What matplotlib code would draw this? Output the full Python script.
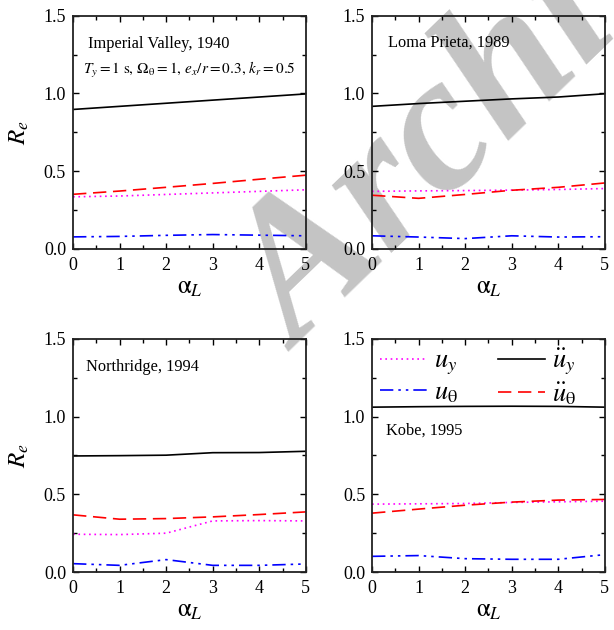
import matplotlib
matplotlib.use("Agg")
import matplotlib.pyplot as plt
from matplotlib.ticker import MultipleLocator

plt.rcParams['font.family'] = ['Liberation Serif', 'DejaVu Serif']
plt.rcParams['mathtext.fontset'] = 'stix'

alpha_L = [0, 1, 2, 3, 4, 5]

# Imperial Valley, 1940
iv_uy = [0.335, 0.34, 0.35, 0.36, 0.37, 0.38]
iv_ut = [0.077, 0.080, 0.087, 0.092, 0.088, 0.084]
iv_ay = [0.897, 0.917, 0.937, 0.957, 0.977, 0.997]
iv_at = [0.351, 0.372, 0.396, 0.421, 0.448, 0.474]

# Loma Prieta, 1989
lp_uy = [0.370, 0.373, 0.375, 0.378, 0.382, 0.388]
lp_ut = [0.084, 0.076, 0.066, 0.084, 0.076, 0.078]
lp_ay = [0.917, 0.935, 0.950, 0.965, 0.977, 0.998]
lp_at = [0.345, 0.325, 0.350, 0.377, 0.396, 0.424]

# Northridge, 1994
nr_uy = [0.243, 0.241, 0.250, 0.329, 0.331, 0.329]
nr_ut = [0.054, 0.043, 0.080, 0.043, 0.043, 0.052]
nr_ay = [0.747, 0.749, 0.752, 0.768, 0.769, 0.777]
nr_at = [0.368, 0.340, 0.344, 0.355, 0.370, 0.387]

# Kobe, 1995
kb_uy = [0.437, 0.439, 0.441, 0.448, 0.452, 0.456]
kb_ut = [0.101, 0.106, 0.086, 0.082, 0.082, 0.112]
kb_ay = [1.061, 1.064, 1.066, 1.067, 1.066, 1.061]
kb_at = [0.379, 0.405, 0.430, 0.450, 0.463, 0.467]

panels = [
    ("Imperial Valley, 1940", iv_uy, iv_ut, iv_ay, iv_at),
    ("Loma Prieta, 1989", lp_uy, lp_ut, lp_ay, lp_at),
    ("Northridge, 1994", nr_uy, nr_ut, nr_ay, nr_at),
    ("Kobe, 1995", kb_uy, kb_ut, kb_ay, kb_at),
]

positions = [
    [0.119, 0.605, 0.379, 0.370],
    [0.606, 0.605, 0.379, 0.370],
    [0.119, 0.092, 0.379, 0.370],
    [0.606, 0.092, 0.379, 0.370],
]
label_pos = [(0.064, 0.88), (0.069, 0.884), (0.056, 0.88), (0.06, 0.605)]

fig = plt.figure(figsize=(6.14, 6.30), dpi=100)

# background watermark
fig.text(0.487, 0.44, "Archive", fontsize=140, fontweight='bold', style='italic',
         color='#c4c4c4', rotation=44, rotation_mode='anchor',
         ha='left', va='baseline', zorder=-1)

for i, (name, uy, ut, ay, at) in enumerate(panels):
    ax = fig.add_axes(positions[i])
    ax.patch.set_alpha(0)
    ax.plot(alpha_L, uy, color='#ff00ff', lw=1.2, ls=(0, (1, 2.2)), label=r'$u_y$')
    ax.plot(alpha_L, ut, color='#0000ff', lw=1.2, ls=(0, (8, 3, 1.5, 3, 1.5, 3)),
            label=r'$u_\mathrm{\theta}$')
    ax.plot(alpha_L, ay, color='black', lw=1.2, label=r'$\ddot{u}_y$')
    ax.plot(alpha_L, at, color='#ff0000', lw=1.2, ls=(0, (8, 4)),
            label=r'$\ddot{u}_\mathrm{\theta}$')
    ax.set_xlim(0, 5)
    ax.set_ylim(0, 1.5)
    ax.xaxis.set_major_locator(MultipleLocator(1))
    ax.xaxis.set_minor_locator(MultipleLocator(0.5))
    ax.yaxis.set_major_locator(MultipleLocator(0.5))
    ax.yaxis.set_minor_locator(MultipleLocator(0.25))
    ax.tick_params(which='both', direction='in', top=True, right=True, labelsize=13)
    ax.tick_params(which='major', length=4.5, width=1)
    ax.tick_params(which='minor', length=3, width=1)
    ax.tick_params(axis='x', pad=6)
    ax.tick_params(axis='y', pad=5)
    for s in ax.spines.values():
        s.set_linewidth(1.3)
        s.set_color('#222222')
    ax.set_xlabel(r'$\mathrm{\alpha}_L$', fontsize=18, labelpad=2)
    if i % 2 == 0:
        ax.set_ylabel(r'$R_e$', fontsize=18, labelpad=9)
    ax.text(label_pos[i][0], label_pos[i][1], name, transform=ax.transAxes,
            fontsize=11.8, va='center', ha='left')
    if i == 0:
        ax.text(0.043, 0.768,
                r'$T_y = 1\ \mathrm{s},\, \Omega_\mathrm{\theta} = 1,\, e_x/r = 0.3,\, k_r = 0.5$',
                transform=ax.transAxes, fontsize=11, va='center', ha='left')
    if i == 3:
        ax.legend(loc='upper left', ncol=2, frameon=False, fontsize=19,
                  handlelength=1.8, columnspacing=1.5, handletextpad=0.25,
                  labelspacing=0.12, borderaxespad=0.0, borderpad=0.3)

fig.savefig("out.png", dpi=100)
